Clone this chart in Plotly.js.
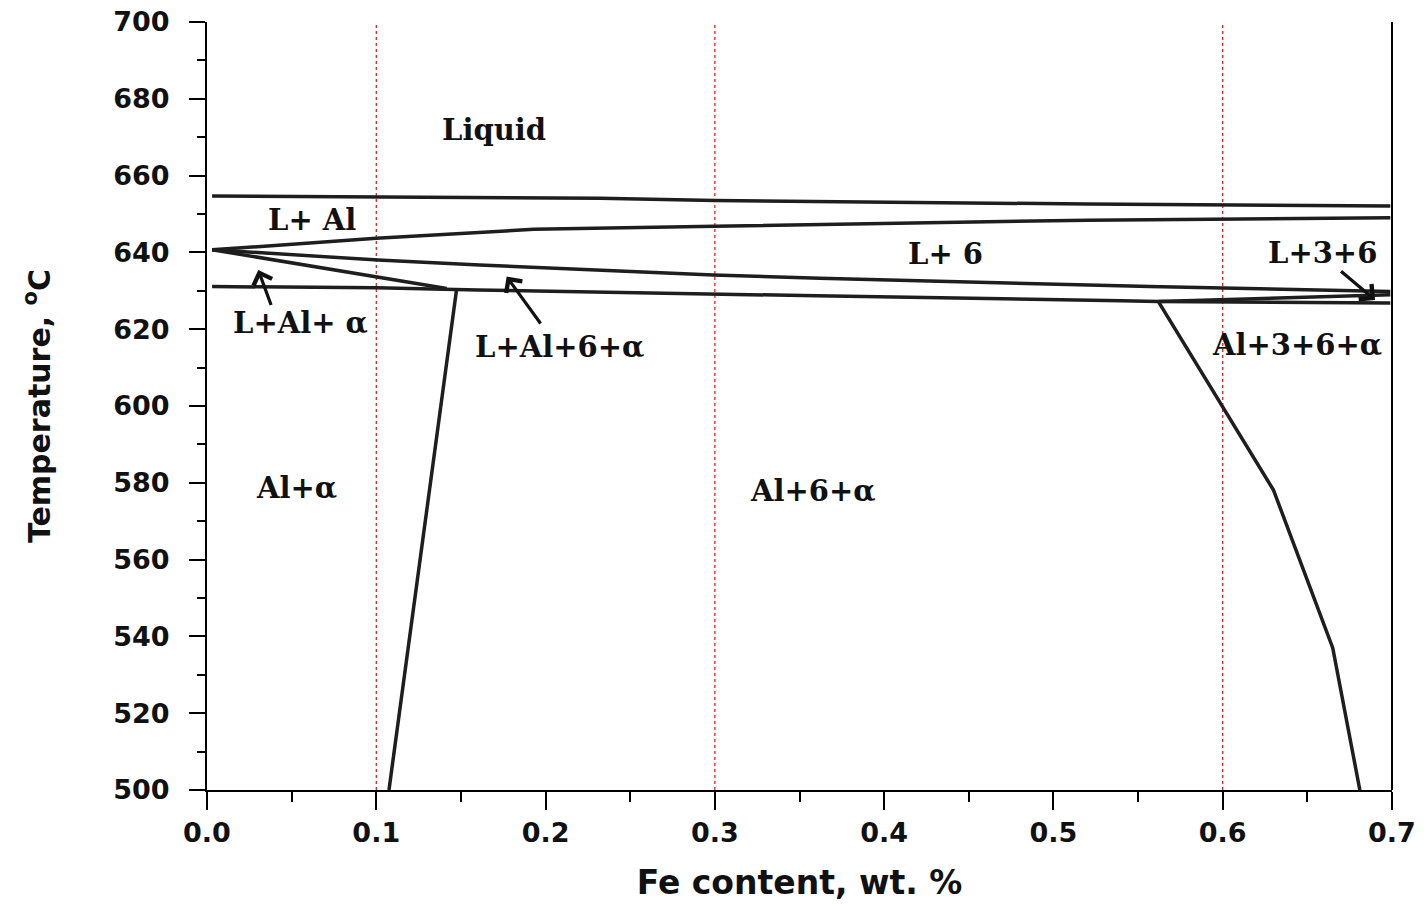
<!DOCTYPE html>
<html>
<head>
<meta charset="utf-8">
<script src="https://cdn.plot.ly/plotly-3.0.1.min.js"></script>
<style>
html,body{margin:0;padding:0;background:#fff;}
#chart{width:1424px;height:906px;}
</style>
</head>
<body>
<div id="chart"></div>
<script>
// Phase boundary lines (Fe wt.%, Temperature °C)
const liquidusTopX = [0.003, 0.232, 0.3, 0.52, 0.699];
const liquidusTopT = [654.7, 654.1, 653.5, 652.6, 652.1];

const l6UpperX = [0.003, 0.038, 0.1, 0.193, 0.3, 0.52, 0.699];
const l6UpperT = [640.7, 641.7, 643.7, 646.0, 646.8, 648.4, 649.0];

const l6LowerX = [0.003, 0.038, 0.101, 0.161, 0.299, 0.362, 0.557, 0.699];
const l6LowerT = [640.7, 639.8, 638.0, 636.7, 634.1, 633.3, 631.1, 629.8];

const lAlAlphaX = [0.003, 0.101, 0.1416];
const lAlAlphaT = [640.7, 633.6, 630.6];

const solidusX = [0.003, 0.1, 0.16, 0.3, 0.36, 0.54, 0.562];
const solidusT = [631.1, 630.8, 630.2, 629.3, 628.7, 627.4, 627.2];

const l36UpperX = [0.562, 0.699];
const l36UpperT = [627.2, 629.0];

const l36LowerX = [0.562, 0.699];
const l36LowerT = [627.2, 626.8];

const solvusLeftX = [0.1475, 0.1075];
const solvusLeftT = [630.6, 500];

const solvusRightX = [0.562, 0.600, 0.630, 0.665, 0.681];
const solvusRightT = [627.2, 600, 578.1, 537, 500];

// Reference compositions (red dotted lines)
const refFe = [0.1, 0.3, 0.6];
const refT = [500, 700];

// Phase-field labels
const labelText = ["Liquid", "L+ Al", "L+ 6", "L+3+6", "L+Al+ α", "L+Al+6+α", "Al+3+6+α", "Al+α", "Al+6+α"];
const labelX = [0.1695, 0.062, 0.436, 0.659, 0.055, 0.2085, 0.644, 0.053, 0.358];
const labelT = [671.9, 648.4, 639.6, 639.8, 621.6, 615.4, 615.9, 578.6, 577.9];

// Pointer arrows: tail -> tip
const arrowTailX = [0.0382, 0.1977, 0.669];
const arrowTailT = [625.9, 621.1, 635.4];
const arrowTipX = [0.0303, 0.177, 0.690];
const arrowTipT = [635.4, 633.7, 627.6];

// Axis ticks
const xTicks = [0, 0.1, 0.2, 0.3, 0.4, 0.5, 0.6, 0.7];
const yTicks = [500, 520, 540, 560, 580, 600, 620, 640, 660, 680, 700];

const lineStyle = {color: '#1e1e1e', width: 3.5};
const boundaries = [
  [liquidusTopX, liquidusTopT], [l6UpperX, l6UpperT], [l6LowerX, l6LowerT],
  [lAlAlphaX, lAlAlphaT], [solidusX, solidusT], [l36UpperX, l36UpperT],
  [l36LowerX, l36LowerT], [solvusLeftX, solvusLeftT], [solvusRightX, solvusRightT]
];

const traces = [];
refFe.forEach(fe => {
  traces.push({x: [fe, fe], y: refT, mode: 'lines', type: 'scatter',
    line: {color: '#e01010', width: 1.2, dash: 'dot'}, hoverinfo: 'skip', showlegend: false});
});
boundaries.forEach(b => {
  traces.push({x: b[0], y: b[1], mode: 'lines', type: 'scatter',
    line: lineStyle, hoverinfo: 'skip', showlegend: false});
});

const annotations = [];
labelText.forEach((t, i) => {
  annotations.push({x: labelX[i], y: labelT[i], xref: 'x', yref: 'y', text: t,
    showarrow: false, xanchor: 'center', yanchor: 'middle',
    font: {family: 'DejaVu Serif, Liberation Serif, serif', size: 29, color: '#111', weight: 'bold'}});
});
arrowTipX.forEach((x, i) => {
  annotations.push({x: x, y: arrowTipT[i], ax: arrowTailX[i], ay: arrowTailT[i],
    xref: 'x', yref: 'y', axref: 'x', ayref: 'y', text: '',
    showarrow: true, arrowhead: 4, arrowsize: 1.2, arrowwidth: 3.2, arrowcolor: '#111'});
});

const axisFont = {family: 'DejaVu Sans, Arial, sans-serif', size: 27, color: '#111', weight: 'bold'};

const layout = {
  width: 1424, height: 906,
  margin: {l: 207, r: 32, t: 22, b: 116},
  paper_bgcolor: '#fff', plot_bgcolor: '#fff',
  showlegend: false,
  xaxis: {
    range: [0, 0.7], tickvals: xTicks, tickformat: '.1f',
    showgrid: false, zeroline: false, showline: true, linecolor: '#000', linewidth: 2,
    ticks: 'outside', ticklen: 18, tickwidth: 2, tickcolor: '#000',
    minor: {dtick: 0.05, tick0: 0, ticks: 'outside', ticklen: 10, tickwidth: 2, tickcolor: '#000', showgrid: false},
    tickfont: axisFont, ticklabelstandoff: 0,
    title: {text: 'Fe content, wt. %', font: {family: 'DejaVu Sans, Arial, sans-serif', size: 33, color: '#111', weight: 'bold'}, standoff: 23}
  },
  yaxis: {
    range: [500, 700], tickvals: yTicks,
    showgrid: false, zeroline: false, showline: true, linecolor: '#000', linewidth: 2,
    ticks: 'outside', ticklen: 16, tickwidth: 2, tickcolor: '#000',
    minor: {dtick: 10, tick0: 500, ticks: 'outside', ticklen: 8, tickwidth: 2, tickcolor: '#000', showgrid: false},
    tickfont: axisFont, ticklabelstandoff: 14,
    title: {text: 'Temperature, <sup>o</sup>C', font: {family: 'DejaVu Sans, Arial, sans-serif', size: 30, color: '#111', weight: 'bold'}, standoff: 54}
  },
  shapes: [
    {type: 'line', xref: 'paper', yref: 'paper', x0: 1, x1: 1, y0: 0, y1: 1, line: {color: '#000', width: 2}}
  ],
  annotations: annotations
};

Plotly.newPlot('chart', traces, layout, {displayModeBar: false, staticPlot: true});
</script>
</body>
</html>
